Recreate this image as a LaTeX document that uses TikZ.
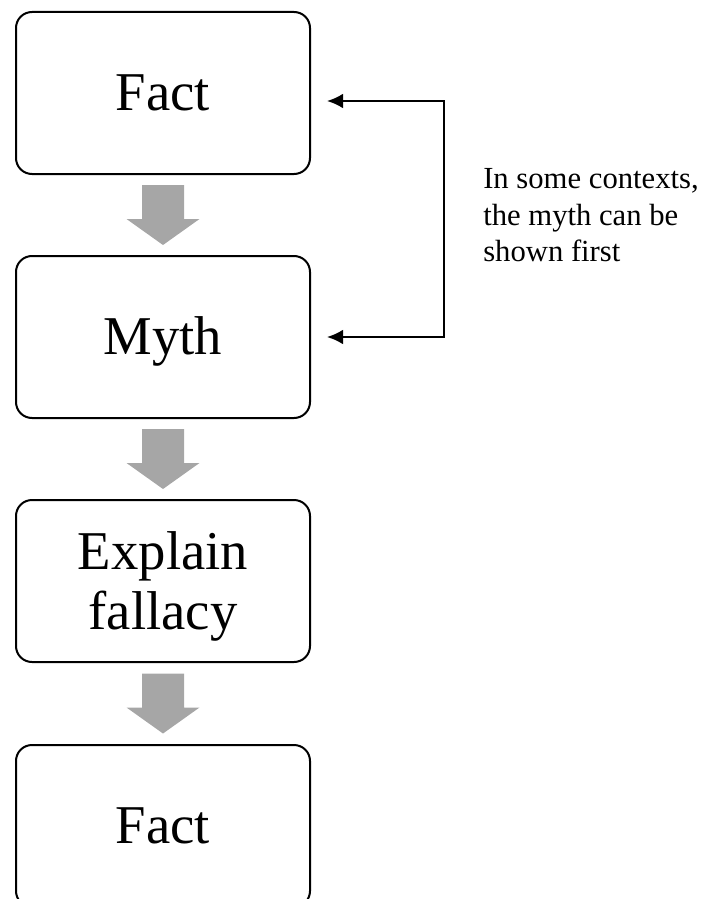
\documentclass[tikz,border=0pt]{standalone}
\usepackage{fontspec}
\setmainfont{Liberation Serif}
\usetikzlibrary{calc,arrows.meta}
\definecolor{arrowgray}{HTML}{A6A6A6}

\tikzset{
  stage/.style={draw,line width=1.5pt,rounded corners=12pt,
    minimum width=220.5pt,minimum height=121.5pt,inner sep=0pt,
    font=\fontsize{41}{45}\selectfont,align=center},
  oneline/.style={text height=26pt,text depth=0pt},
  loopback/.style={line width=1.5pt,
    {Latex[length=12pt,width=11pt]}-{Latex[length=12pt,width=11pt]}}
}

\begin{document}
\begin{tikzpicture}[x=0.75pt,y=-0.75pt]
\useasboundingbox (0,0) rectangle (713,899);

\node[stage,oneline] (fact) at (163,93) {Fact};
\node[stage,oneline] (myth) at (163,337) {Myth};
\node[stage] (explain) at (163,581) {\rule{0pt}{37pt}Explain\\fallacy};
\node[stage,oneline] (factb) at (163,826) {Fact};

% gray arrows between the boxes
\foreach \a/\b in {fact/myth,myth/explain,explain/factb}
  \fill[arrowgray] ($(\a.south)!0.5!(\b.north)$) ++(-21,-30) -- ++(42,0)
    -- ++(0,34) -- ++(15.5,0) -- ++(-36.5,26) -- ++(-36.5,-26) -- ++(15.5,0) -- cycle;

\coordinate (tiptop) at (327,101);
\coordinate (tipbot) at (327,337);
\coordinate (jointop) at (444,101);
\coordinate (joinbot) at (444,337);
\draw[loopback] (tiptop) -- (jointop) -- (joinbot) -- (tipbot);

\node[anchor=north west,inner sep=0pt,align=left,
  font=\fontsize{23}{27.5}\selectfont] (note) at (483,168)
  {In some contexts,\\the myth can be\\shown first};
\end{tikzpicture}
\end{document}
